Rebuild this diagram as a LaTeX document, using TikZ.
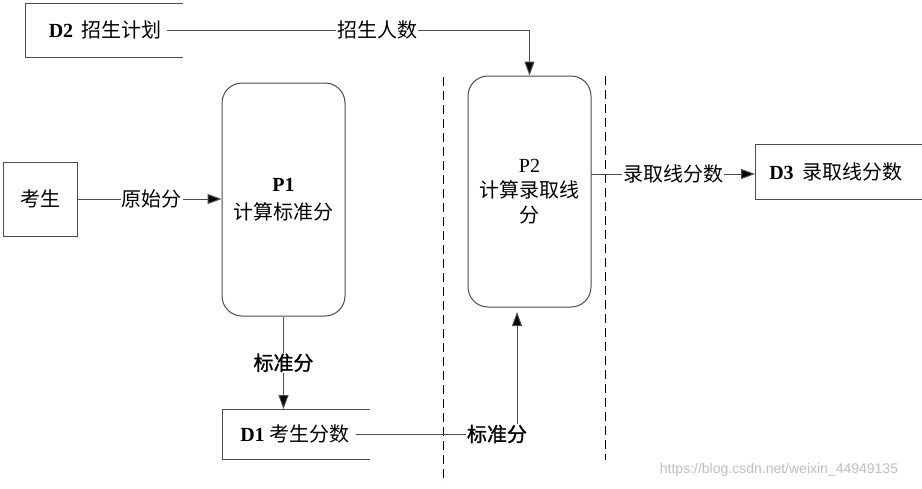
\documentclass[tikz,border=0pt]{standalone}
\usepackage{fontspec}
\setmainfont{Liberation Serif}
\newfontfamily\cjk{Noto Sans CJK SC}
\newfontfamily\cjkb[FakeBold=1.2]{Noto Sans CJK SC}
\newfontfamily\wmfont{Liberation Sans}
\usetikzlibrary{arrows.meta}
\begin{document}
\begin{tikzpicture}[x=1pt,y=-1pt,
  ln/.style={draw=black!70,line width=1pt},
  arr/.style={ln,-{Triangle[length=14pt,width=10pt,fill=black]}},
  txt/.style={font=\fontsize{20}{26}\selectfont,inner sep=0pt},
  lbl/.style={txt,fill=white,inner sep=1pt},
  boxe/.style={ln,draw=black!70,minimum width=74pt,minimum height=74pt,txt},
  proc/.style={ln,rounded corners=20pt,minimum width=123pt,txt,align=center},
  dsh/.style={draw=black,line width=1pt,dash pattern=on 9pt off 5pt}]
\useasboundingbox[fill=white] (0,0) rectangle (922,488);
% D2
\draw[ln] (183,3) -- (25,3) -- (25,57) -- (183,57);
\node[txt,inner sep=6pt] (d2) at (105,30) {\textbf{D2}\hspace{8pt}{\cjk 招生计划}};
% student
\node[boxe] (ks) at (40,199) {\cjk 考生};
% P1
\node[proc,minimum height=233pt] (p1) at (283.5,199.5) {\textbf{P1}\\[2pt]{\cjk 计算标准分}};
% P2
\node[proc,minimum height=231pt] (p2) at (529.5,191.5) {P2\\[-1pt]{\cjk 计算录取线}\\[-1pt]{\cjk 分}};
% D1
\draw[ln] (370,409) -- (222,409) -- (222,459) -- (370,459);
\node[txt,inner sep=6pt] (d1) at (295,434) {\textbf{D1}\hspace{5pt}{\cjk 考生分数}};
\coordinate (d1t) at (283.5,409);
% D3
\draw[ln] (922,144) -- (755,144) -- (755,199) -- (922,199);
\node[txt] (d3) at (836,172) {\textbf{D3}\hspace{9pt}{\cjk 录取线分数}};
\coordinate (d3w) at (755,174);
\coordinate (p2e) at (591,174);
\coordinate (p2b) at (517,312);
% dashed separators
\draw[dsh] (443,77) -- (443,483);
\draw[dsh] (605,76) -- (605,460);
% connectors
\draw[arr] (d2.east) -| node[lbl,pos=0.29]{\cjk 招生人数} (p2.north);
\draw[arr] (ks.east) -- node[lbl,xshift=2pt]{\cjk 原始分} (p1.west |- ks.east);
\draw[arr] (p1.south) -- node[lbl]{\cjkb 标准分} (d1t);
\draw[arr] (d1.east) -| node[lbl,pos=0.5,xshift=-20pt]{\cjkb 标准分} (p2b);
\draw[arr] (p2e) -- node[lbl]{\cjk 录取线分数} (d3w);
% watermark
\node[inner sep=0pt,text=black!25,font=\wmfont\fontsize{14}{16}\selectfont] (wm) at (779,470) {https://blog.csdn.net/weixin\_44949135};
\end{tikzpicture}
\end{document}
